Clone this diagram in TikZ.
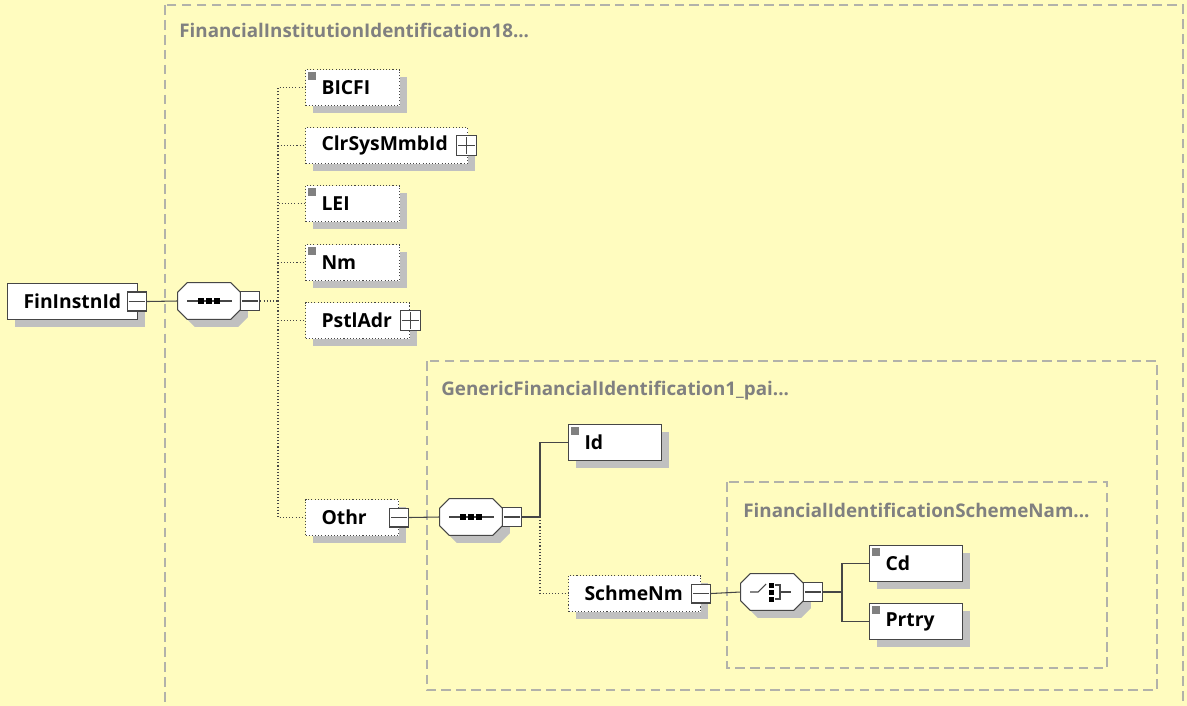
\documentclass[tikz,border=0pt]{standalone}
\usepackage{fontspec}
\setmainfont{Open Sans}
\usetikzlibrary{shadows}
\definecolor{bgyellow}{RGB}{255,252,191}
\definecolor{shadegrey}{RGB}{192,192,192}
\definecolor{framegrey}{RGB}{178,178,170}
\definecolor{titlegrey}{RGB}{128,128,128}
\definecolor{edgegrey}{RGB}{70,70,70}

% octagon behind a named compositor node
\newcommand{\octbody}[1]{%
	\fill[shadegrey, transform canvas={shift={(0.15cm,-0.15cm)}}] ([xshift=0.19cm]#1.north west) -- ([xshift=-0.19cm]#1.north east) -- ([yshift=-0.19cm]#1.north east) -- ([yshift=0.19cm]#1.south east) -- ([xshift=-0.19cm]#1.south east) -- ([xshift=0.19cm]#1.south west) -- ([yshift=0.19cm]#1.south west) -- ([yshift=-0.19cm]#1.north west) -- cycle;
	\filldraw[fill=white, draw=edgegrey, line width=0.6pt] ([xshift=0.19cm]#1.north west) -- ([xshift=-0.19cm]#1.north east) -- ([yshift=-0.19cm]#1.north east) -- ([yshift=0.19cm]#1.south east) -- ([xshift=-0.19cm]#1.south east) -- ([xshift=0.19cm]#1.south west) -- ([yshift=0.19cm]#1.south west) -- ([yshift=-0.19cm]#1.north west) -- cycle;}
\newcommand{\seqmark}[1]{%
	\draw[edgegrey, line width=0.6pt] ([xshift=-0.44cm]#1.center) -- ([xshift=0.46cm]#1.center);
	\foreach \dx in {-0.22,-0.06,0.1}
		\fill[black] ([shift={(\dx cm,-0.06cm)}]#1.center) rectangle ++(0.12cm,0.12cm);}
\newcommand{\choicemark}[1]{%
	\draw[edgegrey, line width=0.6pt] ([xshift=-0.44cm]#1.center) -- ++(0.16cm,0) -- ++(0.16cm,0.16cm);
	\foreach \dy in {0.09,-0.05,-0.19}
		\fill[black] ([shift={(-0.07cm,\dy cm)}]#1.center) rectangle ++(0.1cm,0.1cm);
	\draw[edgegrey, line width=0.6pt] ([shift={(0.05cm,0.14cm)}]#1.center) -| ([shift={(0.16cm,-0.14cm)}]#1.center) -- ++(-0.11cm,0);
	\draw[edgegrey, line width=0.6pt] ([xshift=0.16cm]#1.center) -- ++(0.22cm,0);}

\begin{document}
\begin{tikzpicture}[x=0.02cm, y=-0.02cm,
	elem/.style={draw=edgegrey, line width=0.6pt, fill=white, anchor=north west, minimum height=0.72cm, inner xsep=0.32cm, inner ysep=0pt, text width=#1, align=left, font=\bfseries\fontsize{11}{13}\selectfont, drop shadow={shadow xshift=0.15cm, shadow yshift=-0.15cm, fill=shadegrey, opacity=1}},
	opt/.style={dash pattern=on 0.6pt off 1.2pt},
	mand/.style={path picture={\fill[titlegrey] ([shift={(0.05cm,-0.05cm)}]path picture bounding box.north west) rectangle ++(0.16cm,-0.16cm);}},
	minus/.style={draw=edgegrey, fill=white, line width=0.6pt, minimum size=0.38cm, inner sep=0pt, path picture={\draw[edgegrey, line width=0.6pt] ([xshift=0.03cm]path picture bounding box.west) -- ([xshift=-0.03cm]path picture bounding box.east);}},
	plus/.style={minus, minimum size=0.4cm, path picture={\draw[edgegrey, line width=0.6pt] ([xshift=0.03cm]path picture bounding box.west) -- ([xshift=-0.03cm]path picture bounding box.east); \draw[edgegrey, line width=0.6pt] ([yshift=-0.03cm]path picture bounding box.north) -- ([yshift=0.03cm]path picture bounding box.south);}},
	octa/.style={minimum width=1.24cm, minimum height=0.72cm, inner sep=0pt},
	link/.style={draw=edgegrey, line width=0.6pt},
	dotlink/.style={link, dash pattern=on 0.6pt off 1.2pt},
	grp/.style={draw=framegrey, line width=0.9pt, dash pattern=on 5.5pt off 3pt},
	grptitle/.style={anchor=base west, inner sep=0pt, text=titlegrey, font=\bfseries\fontsize{10.7}{13}\selectfont}]

	\fill[bgyellow] (0,0) rectangle (1187,706);
	\useasboundingbox (0,0) rectangle (1187,706);

	% groups
	\draw[grp] (165,5) rectangle (1183,740);
	\draw (179,38) node[grptitle] (fiititle) {FinancialInstitutionIdentification18...};
	\draw[grp] (427,361) rectangle (1157,690);
	\draw (441,395) node[grptitle] (gfititle) {GenericFinancialIdentification1\_pai...};
	\draw[grp] (727,482) rectangle (1107,668);
	\draw (743,517) node[grptitle] (fisntitle) {FinancialIdentificationSchemeNam...};

	% root and first sequence
	\draw (7,283) node[elem=1.96cm] (finid) {FinInstnId};
	\node[minus] (finsign) at ([xshift=-0.03cm]finid.east) {};
	\draw (209,301) node[octa] (seq1) {};
	\octbody{seq1}
	\seqmark{seq1}
	\node[minus, anchor=west] (seq1sign) at (seq1.east) {};
	\coordinate (fork1) at (278,301);
	\draw[link] (finsign.east) -- (seq1.west);
	\draw[dotlink] (seq1sign.east) -- (fork1);

	\draw (305,69) node[elem=1.24cm, opt, mand] (bicfi) {BICFI};
	\draw (305,127) node[elem=2.6cm, opt] (clrsys) {ClrSysMmbId};
	\node[plus] (clrsign) at ([xshift=-0.03cm]clrsys.east) {};
	\draw (305,185) node[elem=1.24cm, opt, mand] (lei) {LEI};
	\draw (305,244) node[elem=1.24cm, opt, mand] (nm) {Nm};
	\draw (305,302) node[elem=1.44cm, opt] (pstladr) {PstlAdr};
	\node[plus] (pstlsign) at (pstladr.east) {};
	\draw (305,499) node[elem=1.22cm, opt] (othr) {Othr};
	\node[minus] (othrsign) at (othr.east) {};
	\foreach \c in {bicfi,clrsys,lei,nm,pstladr,othr}
		\draw[dotlink] (fork1) |- (\c.west);

	% Othr
	\draw (471,517) node[octa] (seq2) {};
	\octbody{seq2}
	\seqmark{seq2}
	\node[minus, anchor=west] (seq2sign) at (seq2.east) {};
	\coordinate (fork2) at (540,517);
	\draw[link] (othrsign.east) -- (seq2.west);
	\draw[link] (seq2sign.east) -- (fork2);

	\draw (568,424) node[elem=1.22cm, mand] (id) {Id};
	\draw (568,575) node[elem=2.0cm, opt] (schmenm) {SchmeNm};
	\node[minus] (schmesign) at (schmenm.east) {};
	\draw[link] (fork2) |- (id.west);
	\draw[dotlink] (fork2) |- (schmenm.west);

	% SchmeNm choice
	\draw (772,592) node[octa] (choice) {};
	\octbody{choice}
	\choicemark{choice}
	\node[minus, anchor=west] (choicesign) at (choice.east) {};
	\coordinate (fork3) at (842,592);
	\draw[link] (schmesign.east) -- (choice.west);
	\draw[link] (choicesign.east) -- (fork3);

	\draw (869,545) node[elem=1.22cm, mand] (cd) {Cd};
	\draw (869,603) node[elem=1.22cm, mand] (prtry) {Prtry};
	\draw[link] (fork3) |- (cd.west);
	\draw[link] (fork3) |- (prtry.west);
\end{tikzpicture}
\end{document}
